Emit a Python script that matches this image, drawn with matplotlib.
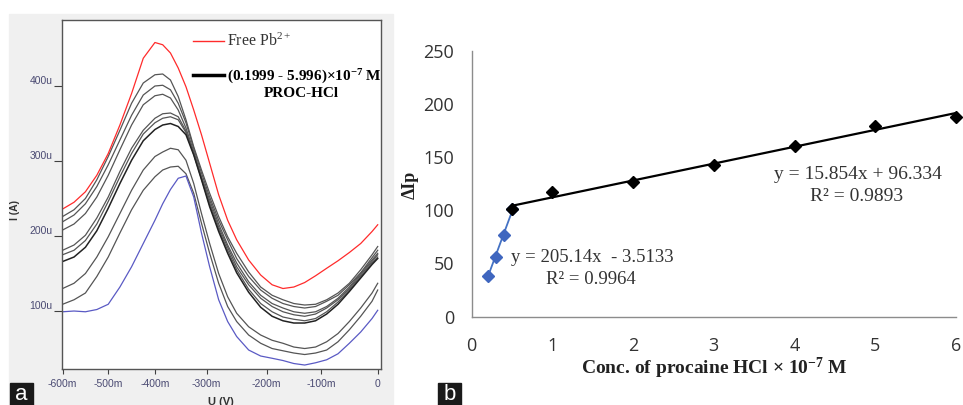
import numpy as np
import matplotlib
matplotlib.use("Agg")
import matplotlib.pyplot as plt
from matplotlib.lines import Line2D
from matplotlib.patches import Rectangle
from matplotlib.ticker import FixedLocator, FuncFormatter

plt.rcParams['mathtext.fontset'] = 'custom'
plt.rcParams['mathtext.rm'] = 'Liberation Serif'
plt.rcParams['mathtext.bf'] = 'Liberation Serif:bold'
plt.rcParams['mathtext.it'] = 'Liberation Serif:italic'

# ---------- panel a: voltammograms (U in mV, I in uA) ----------
U_mV = [-600, -575, -550, -525, -500, -475, -450, -425, -400, -385, -370,
        -355, -340, -325, -310, -295, -280, -265, -250, -230, -210, -190,
        -170, -150, -130, -110, -90, -70, -50, -30, -10, 0]

I_free_pb = [236, 245, 259, 281, 310, 348, 390, 437, 458, 455, 444, 424, 399,
             368, 335, 297, 255, 221, 195, 168, 148, 135, 130, 132, 138, 147,
             157, 167, 178, 190, 206, 215]
I_proc_1 = [226, 235, 250, 275, 306, 341, 377, 404, 415, 416, 408, 386, 355,
            319, 288, 257, 226, 199, 177, 152, 132, 121, 115, 110, 108, 109,
            115, 124, 137, 155, 175, 186]
I_proc_2 = [219, 228, 243, 266, 295, 328, 361, 388, 400, 401, 395, 377, 351,
            317, 284, 252, 221, 195, 170, 146, 128, 117, 110, 106, 104, 106,
            113, 121, 135, 151, 171, 181]
I_proc_3 = [208, 216, 230, 252, 281, 315, 348, 375, 387, 389, 384, 368, 344,
            313, 279, 248, 216, 188, 164, 139, 121, 110, 104, 99, 97, 99,
            106, 117, 132, 150, 168, 177]
I_proc_4 = [181, 188, 201, 224, 252, 286, 317, 341, 357, 363, 364, 359, 340,
            310, 277, 244, 212, 185, 159, 135, 117, 106, 99, 95, 93, 96,
            104, 115, 130, 148, 166, 175]
I_proc_5 = [175, 181, 194, 216, 246, 279, 310, 336, 351, 357, 359, 355, 338,
            309, 276, 241, 209, 181, 155, 129, 110, 99, 92, 89, 87, 90,
            99, 112, 128, 146, 164, 172]
I_proc_6 = [166, 172, 185, 207, 237, 270, 301, 327, 342, 348, 350, 346, 335,
            308, 275, 239, 206, 177, 151, 125, 105, 93, 87, 84, 84, 87,
            96, 109, 126, 144, 162, 170]
I_proc_7 = [130, 137, 150, 172, 199, 230, 261, 288, 306, 312, 317, 315, 301,
            270, 230, 190, 150, 119, 97, 79, 68, 61, 57, 52, 50, 52,
            59, 70, 86, 104, 124, 137]
I_proc_8 = [109, 115, 124, 146, 172, 204, 235, 261, 279, 288, 292, 293, 283,
            257, 217, 177, 137, 106, 86, 68, 57, 50, 47, 44, 42, 44,
            48, 59, 75, 93, 113, 128]
I_proc_9 = [99, 100, 99, 102, 109, 132, 159, 190, 221, 243, 262, 277, 280,
            252, 204, 159, 115, 86, 66, 48, 40, 37, 34, 30, 28, 31,
            35, 43, 57, 72, 90, 101]

u_ticks = [-600, -500, -400, -300, -200, -100, 0]
i_ticks = [100, 200, 300, 400]

# ---------- panel b: calibration ----------
conc_low = [0.2, 0.3, 0.4, 0.5]
dip_low = [38, 56, 77, 101]
conc_high = [0.5, 1, 2, 3, 4, 5, 6]
dip_high = [101, 117, 127, 143, 160, 179, 188]
fit_low = (205.14, -3.5133)
fit_high = (15.854, 96.334)

fig = plt.figure(figsize=(9.63, 4.05), dpi=100)
W, H = 963.0, 405.0

# grey background of the screenshot in panel a
fig.patches.append(Rectangle((9 / W, 0), 384 / W, 1 - 14 / H,
                             transform=fig.transFigure, color='#f0f0f0', zorder=-5))

# the voltage axis of the screenshot is not evenly spaced
tick_mv = [-700, -600, -500, -400, -300, -200, -100, 0, 100]
tick_px = [17.1, 62.7, 108.3, 155.0, 206.7, 266.7, 321.0, 377.7, 434.4]


def fwd(v):
    return np.interp(v, tick_mv, tick_px)


def inv(p):
    return np.interp(p, tick_px, tick_mv)


ax = fig.add_axes([61.7 / W, 1 - 369 / H, 319.3 / W, 349 / H])
ax.set_facecolor('white')
ax.set_xscale('function', functions=(fwd, inv))

grey_curves = [I_proc_1, I_proc_2, I_proc_3, I_proc_4, I_proc_5,
               I_proc_6, I_proc_7, I_proc_8]
for k, c in enumerate(grey_curves):
    col = '#222222' if k == 5 else '#555555'
    ax.plot(U_mV, c, color=col, lw=1.1 if k == 5 else 0.9)
ax.plot(U_mV, I_proc_9, color='#5a5ac4', lw=0.9)
ax.plot(U_mV, I_free_pb, color='#ff2b2b', lw=0.9)

ax.set_xlim(-602, 5.8)
ax.set_ylim(22.7, 488)
ax.xaxis.set_major_locator(FixedLocator(u_ticks))
ax.xaxis.set_minor_locator(FixedLocator([]))
ax.xaxis.set_major_formatter(FuncFormatter(lambda v, p: '0' if v == 0 else f'{v:.0f}m'))
ax.yaxis.set_major_locator(FixedLocator(i_ticks))
ax.yaxis.set_major_formatter(FuncFormatter(lambda v, p: f'{v:.0f}u'))
ax.tick_params(axis='x', direction='out', length=3.6, width=0.8, color='#404040',
               pad=3.5, labelsize=7.5, labelcolor='#4a4a72')
ax.tick_params(axis='y', direction='out', length=6, width=0.8, color='#404040',
               pad=0.5, labelsize=7.5, labelcolor='#4a4a72')
for lab in ax.get_yticklabels():
    lab.set_va('bottom')
    lab.set_family('Liberation Sans')
for lab in ax.get_xticklabels():
    lab.set_family('Liberation Sans')
for s in ax.spines.values():
    s.set_color('#555555')
    s.set_linewidth(1.0)

ax.set_ylabel('I (A)', fontsize=7.5, fontweight='bold', family='Liberation Sans',
              color='#333333', va='center')
ax.yaxis.set_label_coords(-0.146, 0.456)
ax.set_xlabel('U (V)', fontsize=8, fontweight='bold', family='Liberation Sans',
              color='#333333', va='top')
ax.xaxis.set_label_coords(0.499, -0.080)

handles = [Line2D([], [], color='#ff2b2b', lw=1.0),
           Line2D([], [], color='black', lw=2.5)]
labels = ['Free Pb$^{2+}$', r'(0.1999 - 5.996)×10$^{\mathbf{-7}}$ M']
leg = ax.legend(handles, labels, loc='upper left',
                bbox_to_anchor=(192.7 / W, 1 - 33 / H), bbox_transform=fig.transFigure,
                frameon=False, borderpad=0, borderaxespad=0, handlelength=1.95,
                handletextpad=0.2, labelspacing=1.1,
                prop={'family': 'Liberation Serif', 'size': 11.5})
leg.get_texts()[0].set_color('#333333')
leg.get_texts()[1].set_fontweight('bold')
leg.get_texts()[1].set_fontsize(11)
ax.text(0.749, 0.788, 'PROC-HCl', transform=ax.transAxes, ha='center', va='center',
        family='Liberation Serif', fontweight='bold', fontsize=11)

# ---------- panel b ----------
bx = fig.add_axes([471.7 / W, 1 - 316.7 / H, 484.3 / W, 266 / H])
xs = np.array([min(conc_low), max(conc_low)])
bx.plot(xs, fit_low[0] * xs + fit_low[1], color='#4472c4', lw=1.3, zorder=2)
bx.plot(conc_low, dip_low, 'D', color='#3f66bf', ms=6.5, zorder=3, clip_on=False)
xs = np.array([min(conc_high), max(conc_high)])
bx.plot(xs, fit_high[0] * xs + fit_high[1], color='black', lw=1.6, zorder=4)
bx.plot(conc_high, dip_high, 'D', color='black', ms=6.5, zorder=5, clip_on=False)

bx.set_xlim(0, 6)
bx.set_ylim(0, 250)
bx.set_xticks(range(0, 7))
bx.set_yticks(range(0, 251, 50))
for s in ['top', 'right']:
    bx.spines[s].set_visible(False)
for s in ['left', 'bottom']:
    bx.spines[s].set_color('#8c8c8c')
    bx.spines[s].set_linewidth(1.0)
bx.tick_params(axis='x', length=0, pad=14.8, labelsize=13, labelcolor='#333333')
bx.tick_params(axis='y', length=0, pad=12.7, labelsize=13, labelcolor='#333333')
for lab in bx.get_xticklabels() + bx.get_yticklabels():
    lab.set_family('Open Sans')

bx.text(1.497, 55.2, 'y = 205.14x  - 3.5133', ha='center', va='center',
        family='Liberation Serif', fontsize=13.5, color='#333333')
bx.text(1.478, 35.2, 'R² = 0.9964', ha='center', va='center',
        family='Liberation Serif', fontsize=13.5, color='#333333')
bx.text(4.78, 133.2, 'y = 15.854x + 96.334', ha='center', va='center',
        family='Liberation Serif', fontsize=14, color='#333333')
bx.text(4.774, 112.8, 'R² = 0.9893', ha='center', va='center',
        family='Liberation Serif', fontsize=14, color='#333333')

bx.set_xlabel(r'Conc. of procaine HCl × 10$^{\mathbf{-7}}$ M', family='Liberation Serif',
              fontweight='bold', fontsize=14, color='#222222', va='center')
bx.xaxis.set_label_coords(0.5, -0.194)
bx.set_ylabel('ΔIp', family='Liberation Serif', fontweight='bold', fontsize=13,
              color='#222222', va='center')
bx.yaxis.set_label_coords(-0.1264, 0.495)

# panel letters
for x0, letter in [(10, 'a'), (438, 'b')]:
    fig.patches.append(Rectangle((x0 / W, 0), 23 / W, 22 / H, transform=fig.transFigure,
                                 color='#1a1a1a', zorder=5))
    fig.text((x0 + 11.5) / W, 10.5 / H, letter, color='white', ha='center', va='center',
             family='Liberation Sans', fontsize=16, zorder=6)

fig.savefig('out.png', dpi=100)
